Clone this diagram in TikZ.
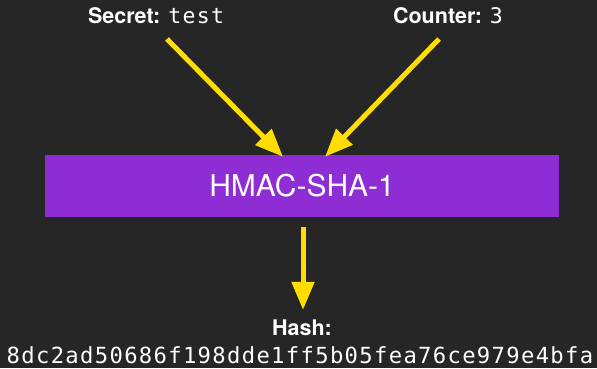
\documentclass[tikz,border=0pt]{standalone}
\usepackage{fontspec}
\setmainfont{TeX Gyre Heros}
\newfontfamily\hashfont[LetterSpace=6]{DejaVu Sans Mono}
\usetikzlibrary{arrows.meta,calc}
\definecolor{bgdark}{HTML}{262626}
\definecolor{boxpurple}{HTML}{8E2DD3}
\definecolor{arrowyellow}{HTML}{FFDD00}
\tikzset{
  label/.style={text=white,inner sep=0pt,font=\fontsize{21.5}{26}\selectfont},
  flow/.style={draw=arrowyellow,line width=5pt,-{Triangle[length=28pt,width=22pt]}}
}

\begin{document}
\begin{tikzpicture}[x=1pt,y=1pt]
  \useasboundingbox (0,0) rectangle (597,368);
  \fill[bgdark] (0,0) rectangle (597,368);
  \node[label] (secret) at (156,352) {\textbf{Secret:} {\hashfont test}};
  \node[label] (counter) at (448,352) {\textbf{Counter:} {\hashfont 3}};
  \node[fill=boxpurple,text=white,minimum width=514pt,minimum height=62pt,
        font=\fontsize{30}{36}\selectfont] (hmac) at (302,182) {HMAC-SHA-1};
  \node[label] (hashname) at (302,40) {\textbf{Hash:}};
  \node[label,font=\fontsize{22.2}{27}\selectfont] (hash) at (300,13)
    {\hashfont 8dc2ad50686f198dde1ff5b05fea76ce979e4bfa};
  % inputs into the hmac
  \coordinate (secretout) at (167,329);
  \coordinate (counterout) at (439,329);
  \draw[flow] (secretout) -- ($(hmac.north)+(-19,-2)$);
  \draw[flow] (counterout) -- ($(hmac.north)+(23,-2)$);
  % output hash
  \draw[flow] ($(hmac.south)+(1,-10)$) -- ($(hashname.north)+(1,10)$);
\end{tikzpicture}
\end{document}
